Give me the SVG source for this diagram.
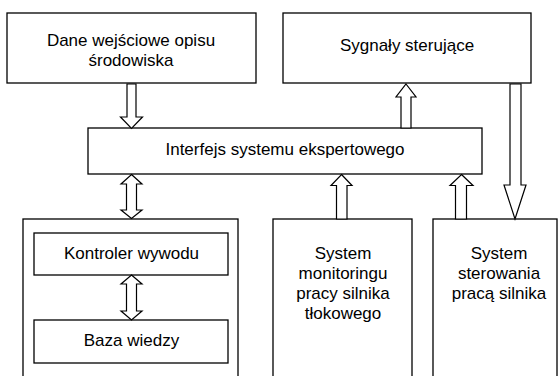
<svg xmlns="http://www.w3.org/2000/svg" width="560" height="376" viewBox="0 0 560 376">
<style>
.box{fill:#fff;stroke:#000;stroke-width:1.3}
.arr{fill:#fff;stroke:#000;stroke-width:1.2;stroke-linejoin:miter}
text{font-family:"Liberation Sans",Arial,sans-serif;font-size:17px;fill:#000;text-anchor:middle}
</style>
<rect width="560" height="376" fill="#fff"/>
<g id="dane">
<rect class="box" x="7" y="13" width="249" height="70"/>
<text x="131" y="46">Dane wejściowe opisu</text>
<text x="131" y="66">środowiska</text>
</g>
<g id="sygnaly">
<rect class="box" x="283" y="13" width="248" height="70"/>
<text x="407" y="51">Sygnały sterujące</text>
</g>
<g id="interfejs">
<rect class="box" x="88" y="128" width="394" height="46"/>
<text x="285" y="155">Interfejs systemu ekspertowego</text>
</g>
<g id="system-ekspertowy">
<rect class="box" x="23" y="219" width="215" height="170"/>
</g>
<g id="kontroler">
<rect class="box" x="34" y="233" width="194" height="42"/>
<text x="131.5" y="259">Kontroler wywodu</text>
</g>
<g id="baza">
<rect class="box" x="34" y="320" width="194" height="43"/>
<text x="131.5" y="346">Baza wiedzy</text>
</g>
<g id="monitoring">
<rect class="box" x="273" y="219" width="139" height="170"/>
<text x="343" y="259">System</text>
<text x="343" y="279">monitoringu</text>
<text x="343" y="299">pracy silnika</text>
<text x="343" y="319">tłokowego</text>
</g>
<g id="sterowanie">
<rect class="box" x="433" y="219" width="124" height="170"/>
<text x="499" y="259">System</text>
<text x="499" y="279">sterowania</text>
<text x="499" y="299">pracą silnika</text>
</g>
<g id="connectors">
<polygon class="arr" points="127,84 136,84 136,117 142.5,117 131.5,128.5 120.5,117 127,117"/>
<polygon class="arr" points="406,84 416,97 411,97 411,128 401,128 401,97 396,97"/>
<polygon class="arr" points="510,84 521,84 521,185 526,185 515,219 504,185 510,185"/>
<polygon class="arr" points="131.5,174.5 142,184 136.5,184 136.5,210 142,210 131.5,218.5 121,210 126.5,210 126.5,184 121,184"/>
<polygon class="arr" points="341.5,174.5 352,185.5 347,185.5 347,219 336.5,219 336.5,185.5 331,185.5"/>
<polygon class="arr" points="461.5,174.5 473,185.5 466.5,185.5 466.5,219 455.5,219 455.5,185.5 450,185.5"/>
<polygon class="arr" points="131.5,275 142,284 136.5,284 136.5,311 142,311 131.5,320 121,311 126.5,311 126.5,284 121,284"/>
</g>
</svg>
